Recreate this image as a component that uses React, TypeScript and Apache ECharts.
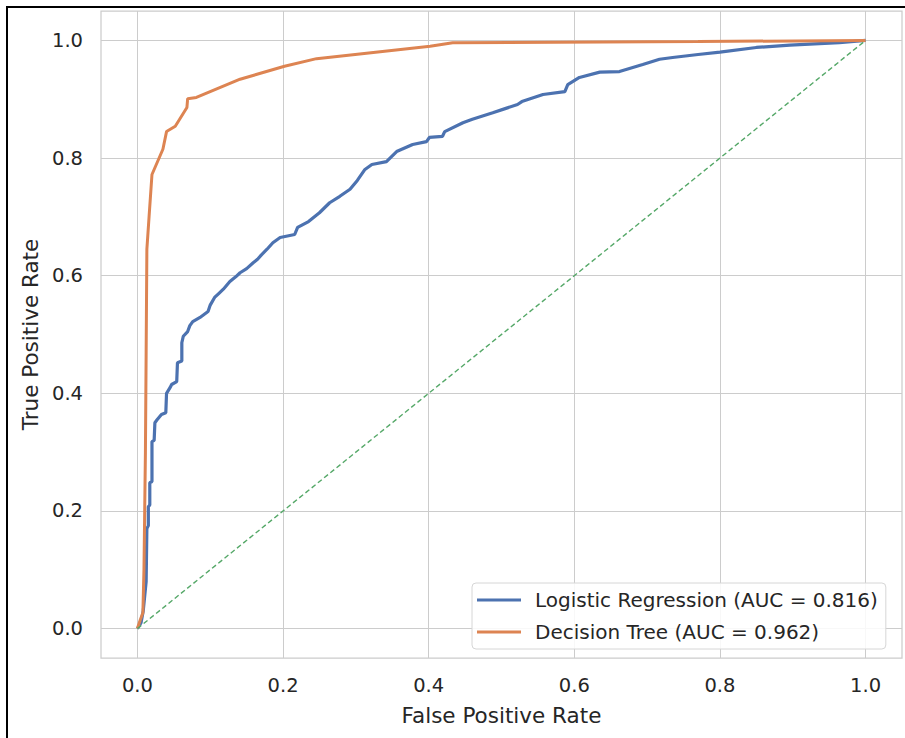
import React, { useEffect, useRef } from "react";
import * as echarts from "echarts";

const xTicks = [0, 0.2, 0.4, 0.6, 0.8, 1.0];
const yTicks = [0, 0.2, 0.4, 0.6, 0.8, 1.0];

const lrName = "Logistic Regression (AUC = 0.816)";
const dtName = "Decision Tree (AUC = 0.962)";

const lrFpr = [0, 0.005, 0.008, 0.012, 0.013, 0.015, 0.015, 0.017, 0.017, 0.02, 0.02, 0.023, 0.024, 0.027, 0.033, 0.039, 0.04, 0.045, 0.047, 0.054, 0.055, 0.061, 0.061, 0.063, 0.069, 0.072, 0.076, 0.086, 0.097, 0.1, 0.106, 0.112, 0.118, 0.127, 0.135, 0.141, 0.15, 0.159, 0.165, 0.17, 0.178, 0.186, 0.196, 0.216, 0.22, 0.235, 0.25, 0.264, 0.278, 0.292, 0.302, 0.312, 0.322, 0.342, 0.356, 0.378, 0.397, 0.401, 0.419, 0.422, 0.447, 0.46, 0.488, 0.505, 0.522, 0.528, 0.557, 0.587, 0.591, 0.607, 0.635, 0.662, 0.694, 0.717, 0.735, 0.77, 0.8, 0.85, 0.896, 0.93, 0.964, 1];
const lrTpr = [0, 0.01, 0.03, 0.08, 0.17, 0.175, 0.207, 0.21, 0.248, 0.25, 0.318, 0.32, 0.35, 0.355, 0.364, 0.367, 0.4, 0.41, 0.415, 0.42, 0.452, 0.455, 0.486, 0.497, 0.505, 0.515, 0.522, 0.529, 0.539, 0.55, 0.563, 0.57, 0.577, 0.59, 0.598, 0.605, 0.612, 0.622, 0.628, 0.635, 0.645, 0.656, 0.665, 0.67, 0.682, 0.692, 0.707, 0.724, 0.735, 0.747, 0.762, 0.78, 0.789, 0.794, 0.811, 0.823, 0.828, 0.835, 0.837, 0.845, 0.86, 0.866, 0.877, 0.884, 0.891, 0.896, 0.908, 0.913, 0.925, 0.937, 0.946, 0.947, 0.959, 0.968, 0.971, 0.976, 0.98, 0.988, 0.992, 0.994, 0.996, 1];

const dtFpr = [0, 0.004, 0.0075, 0.009, 0.011, 0.012, 0.013, 0.016, 0.02, 0.035, 0.04, 0.052, 0.068, 0.069, 0.081, 0.141, 0.202, 0.246, 0.402, 0.433, 0.77, 1];
const dtTpr = [0, 0.015, 0.027, 0.1, 0.3, 0.47, 0.645, 0.7, 0.772, 0.815, 0.845, 0.854, 0.886, 0.901, 0.903, 0.934, 0.956, 0.969, 0.99, 0.996, 0.998, 1];

const chanceX = [0, 1];
const chanceY = [0, 1];

const zip = (a: number[], b: number[]) => a.map((v, i) => [v, b[i]]);

const TEXT = "#262626";
const GRID = "#cccccc";
const FONT = "DejaVu Sans";

export default function App() {
  const ref = useRef<HTMLDivElement>(null);
  useEffect(() => {
    const chart = echarts.init(ref.current!, null, { renderer: "svg" });
    chart.setOption({
      animation: false,
      backgroundColor: "#ffffff",
      textStyle: { fontFamily: FONT, color: TEXT },
      grid: {
        left: 101,
        right: 3,
        top: 11,
        bottom: 80,
        show: true,
        borderColor: GRID,
        borderWidth: 1.25,
        backgroundColor: "#ffffff",
      },
      xAxis: {
        type: "value",
        min: -0.05,
        max: 1.05,
        name: "False Positive Rate",
        nameLocation: "middle",
        nameGap: 46,
        nameTextStyle: { fontFamily: FONT, fontSize: 21.5, color: TEXT },
        axisLine: { show: false },
        axisTick: { show: false, customValues: xTicks },
        axisLabel: {
          customValues: xTicks,
          formatter: (v: number) => v.toFixed(1),
          fontFamily: FONT,
          fontSize: 19.5,
          color: TEXT,
          margin: 17,
        },
        splitLine: { show: true, lineStyle: { color: GRID, width: 1 } },
      },
      yAxis: {
        type: "value",
        min: -0.05,
        max: 1.05,
        name: "True Positive Rate",
        nameLocation: "middle",
        nameGap: 57,
        nameTextStyle: { fontFamily: FONT, fontSize: 21.5, color: TEXT },
        axisLine: { show: false },
        axisTick: { show: false, customValues: yTicks },
        axisLabel: {
          customValues: yTicks,
          formatter: (v: number) => v.toFixed(1),
          fontFamily: FONT,
          fontSize: 19.5,
          color: TEXT,
          margin: 18,
        },
        splitLine: { show: true, lineStyle: { color: GRID, width: 1 } },
      },
      legend: {
        data: [lrName, dtName],
        orient: "vertical",
        left: 472,
        top: 583,
        icon: "rect",
        itemWidth: 44,
        itemHeight: 3,
        itemGap: 12,
        padding: [7, 8, 7, 5],
        backgroundColor: "rgba(255,255,255,0.85)",
        borderColor: "#d6d6d6",
        borderWidth: 1,
        borderRadius: 4,
        textStyle: { fontFamily: FONT, fontSize: 20, color: TEXT, padding: [0, 0, 0, 9] },
      },
      graphic: [
        {
          type: "rect",
          shape: { x: 7, y: 7, width: 1000, height: 1000 },
          style: { fill: "none", stroke: "#000000", lineWidth: 2 },
          silent: true,
          z: 100,
        },
      ],
      series: [
        {
          name: lrName,
          type: "line",
          data: zip(lrFpr, lrTpr),
          symbol: "none",
          color: "#4c72b0",
          lineStyle: { color: "#4c72b0", width: 3.2 },
          z: 3,
        },
        {
          name: dtName,
          type: "line",
          data: zip(dtFpr, dtTpr),
          symbol: "none",
          color: "#dd8452",
          lineStyle: { color: "#dd8452", width: 3 },
          z: 4,
        },
        {
          name: "Chance",
          type: "line",
          data: zip(chanceX, chanceY),
          symbol: "none",
          color: "#55a868",
          lineStyle: { color: "#55a868", width: 1.4, type: [5, 3] },
          z: 5,
        },
      ],
    });
    return () => chart.dispose();
  }, []);
  return (
    <div style={{ position: "fixed", left: 0, top: 0, width: 905, height: 738, background: "#ffffff" }}>
      <div ref={ref} style={{ width: 905, height: 738 }} />
    </div>
  );
}
